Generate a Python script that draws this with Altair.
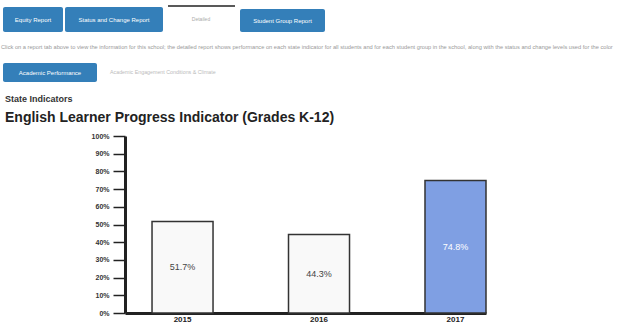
import altair as alt
import pandas as pd

years = ["2015", "2016", "2017"]
values = [0.517, 0.443, 0.748]
labels = ["51.7%", "44.3%", "74.8%"]
highlight = [False, False, True]
ytick_values = [0.0, 0.1, 0.2, 0.3, 0.4, 0.5, 0.6, 0.7, 0.8, 0.9, 1.0]

df = pd.DataFrame({"year": years, "value": values, "label": labels, "hl": highlight})
df["mid"] = df["value"] / 2

FONT = "Liberation Sans"
BLUE = "#347fb9"

x_scale = alt.Scale(paddingInner=0.553, paddingOuter=0.099, align=1)
x_axis = alt.Axis(labelAngle=0, ticks=False, domainWidth=3, domainColor="#222",
                  labelFont=FONT, labelFontWeight="bold", labelFontSize=8,
                  labelColor="#222", labelPadding=2)
y_scale = alt.Scale(domain=[0, 1], nice=False)
y_axis = alt.Axis(values=ytick_values, format=".0%", grid=False,
                  labelOverlap=False, labelBound=False,
                  tickSize=12, tickWidth=1.5, tickColor="#222",
                  domainWidth=3, domainColor="#222",
                  labelFont=FONT, labelFontWeight="bold", labelFontSize=7,
                  labelColor="#333", labelPadding=4)

bars = alt.Chart(df).mark_bar(stroke="#333", strokeWidth=1.5).encode(
    x=alt.X("year:N", title=None, scale=x_scale, axis=x_axis),
    y=alt.Y("value:Q", title=None, scale=y_scale, axis=y_axis),
    color=alt.condition("datum.hl", alt.value("#7f9fe3"), alt.value("#f9f9f9")),
)
texts = alt.Chart(df).mark_text(font=FONT, fontSize=9).encode(
    x=alt.X("year:N", title=None, scale=x_scale, axis=x_axis),
    y=alt.Y("mid:Q", title=None, scale=y_scale, axis=y_axis),
    text="label:N",
    color=alt.condition("datum.hl", alt.value("#ffffff"), alt.value("#444444")),
)

one = pd.DataFrame({"a": [0]})


def button(x0, x1, y0, y1, label, fill=BLUE, tcolor="white", size=6):
    r = alt.Chart(one).mark_rect(fill=fill, cornerRadius=2).encode(
        x=alt.value(x0), x2=alt.value(x1), y=alt.value(y0), y2=alt.value(y1))
    t = alt.Chart(pd.DataFrame({"t": [label]})).mark_text(font=FONT, fontSize=size, color=tcolor).encode(
        x=alt.value((x0 + x1) / 2), y=alt.value((y0 + y1) / 2), text="t:N")
    return [r, t]


def label_text(x, y, txt, size, color, weight="normal", align="left"):
    return alt.Chart(pd.DataFrame({"t": [txt]})).mark_text(
        font=FONT, fontSize=size, color=color, fontWeight=weight, align=align, baseline="middle"
    ).encode(x=alt.value(x), y=alt.value(y), text="t:N")


deco = []
deco += button(-122, -62, -129, -104, "Equity Report")
deco += button(-60, 38, -129, -104, "Status and Change Report")
deco += button(115, 200, -127, -104, "Student Group Report")
deco.append(alt.Chart(one).mark_rule(color="#222", strokeWidth=1.5).encode(
    x=alt.value(43), x2=alt.value(110), y=alt.value(-130)))
deco.append(label_text(76, -117, "Detailed", 5, "#aaa", align="center"))
deco.append(label_text(-124, -89,
    "Click on a report tab above to view the information for this school; the detailed report shows performance on each state indicator for all students and for each student group in the school, along with the status and change levels used for the color",
    5.7, "#999"))
deco += button(-122, -28, -73, -54, "Academic Performance")
deco.append(label_text(-15, -64, "Academic Engagement    Conditions & Climate", 5.3, "#bbb"))
deco.append(label_text(-120, -37, "State Indicators", 9, "#333", weight="bold"))
deco.append(label_text(-120, -18, "English Learner Progress Indicator (Grades K-12)", 14, "#222", weight="bold"))

chart = alt.layer(bars, texts, *deco).properties(
    width=361, height=177,
    padding={"left": 125, "top": 136, "right": 138, "bottom": 15},
    autosize=alt.AutoSizeParams(type="none"),
    background="white",
).configure_view(stroke=None)

chart.save("out.html", embed_options={"renderer": "svg", "actions": False})
